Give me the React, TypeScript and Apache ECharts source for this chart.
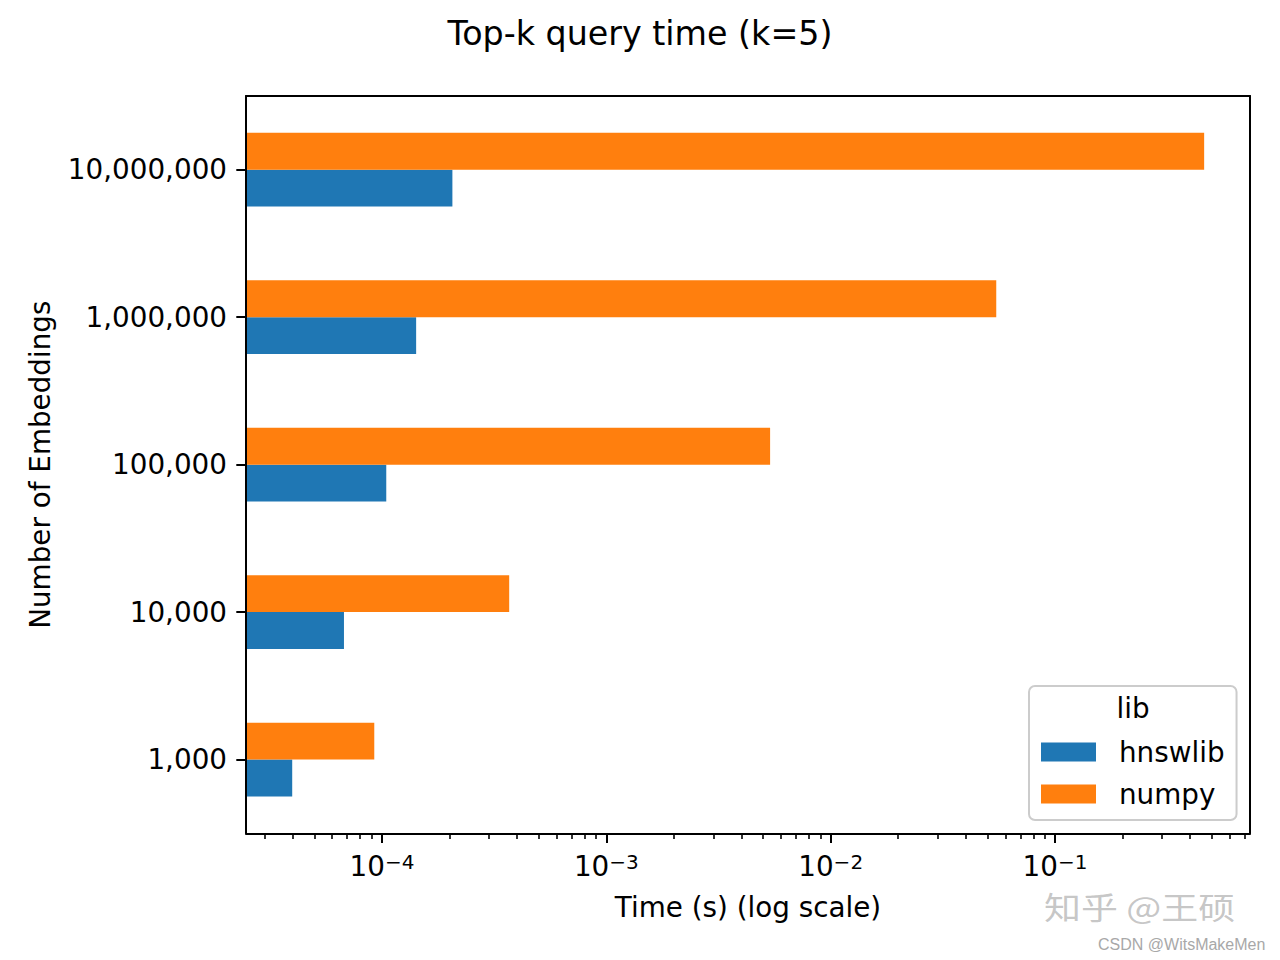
import React, { useEffect, useRef } from 'react';
import * as echarts from 'echarts';

const categories = ['1,000', '10,000', '100,000', '1,000,000', '10,000,000'];
const seriesNames = ['hnswlib', 'numpy'];
const hnswlibTimes = [3.98e-5, 6.77e-5, 1.045e-4, 1.42e-4, 2.06e-4];
const numpyTimes = [9.24e-5, 3.69e-4, 5.37e-3, 5.47e-2, 0.462];
const majorTicks = [1e-4, 1e-3, 1e-2, 1e-1];
const X_MIN = 2.477e-5;
const X_MAX = 0.7396;

const minorTicks: number[] = [];
for (let e = -5; e <= -1; e++) {
  for (let m = 2; m <= 9; m++) {
    const v = m * Math.pow(10, e);
    if (v >= X_MIN && v <= X_MAX) minorTicks.push(v);
  }
}

const FONT = "'DejaVu Sans', sans-serif";
const FS = 27.8;

const makeRender = (side: number) => (params: any, api: any) => {
  const v = api.value(0);
  const cat = api.value(1);
  const end = api.coord([v, cat]);
  const band = api.size([0, 1], [v, cat])[1];
  const h = band * 0.25;
  const cs = params.coordSys;
  const x0 = cs.x;
  const y = side < 0 ? end[1] - h : end[1];
  return {
    type: 'rect',
    shape: { x: x0, y, width: end[0] - x0, height: h },
    style: { fill: api.visual('color') },
  };
};

export default function App() {
  const ref = useRef<HTMLDivElement>(null);
  useEffect(() => {
    if (!ref.current) return;
    const chart = echarts.init(ref.current, undefined, { renderer: 'svg' });
    const axisLine = { show: true, lineStyle: { color: '#000', width: 2 } };
    const option: any = {
      animation: false,
      backgroundColor: '#fff',
      title: {
        text: 'Top-k query time (k=5)',
        left: 'center',
        top: 17,
        padding: 0,
        textStyle: { fontFamily: FONT, fontSize: 33.3, fontWeight: 'normal', color: '#000' },
      },
      grid: { left: 246, right: 30, top: 96, bottom: 126.7, containLabel: false },
      legend: {
        data: seriesNames,
        orient: 'vertical',
        left: 1029,
        top: 686,
        icon: 'rect',
        itemWidth: 55,
        itemHeight: 19,
        itemGap: 14,
        padding: [52, 12, 12, 12],
        borderColor: '#cccccc',
        borderWidth: 2,
        borderRadius: 6,
        backgroundColor: 'rgba(255,255,255,0.8)',
        itemStyle: { borderWidth: 0 },
        textStyle: { fontFamily: FONT, fontSize: FS, color: '#000', lineHeight: 28, padding: [0, 0, 0, 18] },
        z: 20,
      },
      xAxis: [
        {
          type: 'log',
          min: X_MIN,
          max: X_MAX,
          position: 'bottom',
          z: 10,
          axisLine,
          axisTick: { show: true, customValues: majorTicks, length: 9.7, lineStyle: { color: '#000', width: 2 } },
          axisLabel: {
            customValues: majorTicks,
            margin: 19,
            formatter: (v: number) => {
              const e = Math.round(Math.log10(v));
              return `{b|10}{s|\u2212${Math.abs(e)}}`;
            },
            rich: {
              b: { fontSize: FS, fontFamily: FONT, color: '#000' },
              s: { fontSize: 20, fontFamily: FONT, color: '#000', verticalAlign: 'top' },
            },
          },
          splitLine: { show: false },
          minorTick: { show: false },
          name: 'Time (s) (log scale)',
          nameLocation: 'middle',
          nameGap: 60,
          nameTextStyle: { fontFamily: FONT, fontSize: FS, color: '#000' },
        },
        {
          type: 'log',
          min: X_MIN,
          max: X_MAX,
          position: 'bottom',
          z: 10,
          axisLine: { show: false },
          axisTick: { show: true, customValues: minorTicks, length: 5.6, lineStyle: { color: '#000', width: 1.6 } },
          axisLabel: { show: false },
          splitLine: { show: false },
        },
        {
          type: 'log',
          min: X_MIN,
          max: X_MAX,
          position: 'top',
          z: 10,
          axisLine,
          axisTick: { show: false },
          axisLabel: { show: false },
          splitLine: { show: false },
        },
      ],
      yAxis: [
        {
          type: 'category',
          data: categories,
          position: 'left',
          z: 10,
          axisLine,
          axisTick: { show: true, alignWithLabel: true, length: 9.7, lineStyle: { color: '#000', width: 2 } },
          axisLabel: { margin: 19, fontSize: FS, fontFamily: FONT, color: '#000', padding: [3, 0, 0, 0] },
          splitLine: { show: false },
          name: 'Number of Embeddings',
          nameLocation: 'middle',
          nameRotate: 90,
          nameGap: 192,
          nameTextStyle: { fontFamily: FONT, fontSize: FS, color: '#000' },
        },
        {
          type: 'category',
          data: categories,
          position: 'right',
          z: 10,
          axisLine,
          axisTick: { show: false },
          axisLabel: { show: false },
          splitLine: { show: false },
        },
      ],
      series: [
        {
          name: 'hnswlib',
          type: 'custom',
          xAxisIndex: 0,
          yAxisIndex: 0,
          itemStyle: { color: '#1f77b4' },
          encode: { x: 0, y: 1 },
          data: hnswlibTimes.map((v, i) => [v, i]),
          renderItem: makeRender(1),
          z: 2,
        },
        {
          name: 'numpy',
          type: 'custom',
          xAxisIndex: 0,
          yAxisIndex: 0,
          itemStyle: { color: '#ff7f0e' },
          encode: { x: 0, y: 1 },
          data: numpyTimes.map((v, i) => [v, i]),
          renderItem: makeRender(-1),
          z: 2,
        },
      ],
      graphic: [
        {
          type: 'text',
          x: 1133,
          y: 708,
          z: 30,
          style: { text: 'lib', fontFamily: FONT, fontSize: FS, fill: '#000', align: 'center', verticalAlign: 'middle' },
        },
        {
          type: 'text',
          x: 1044,
          y: 906,
          scaleY: 0.82,
          z: 30,
          style: { text: '知乎 @王硕', fontFamily: "'Noto Sans CJK SC', sans-serif", fontSize: 37, fill: 'rgba(150,150,150,0.55)', align: 'left', verticalAlign: 'middle' },
        },
        {
          type: 'text',
          x: 1098,
          y: 944,
          z: 30,
          style: { text: 'CSDN @WitsMakeMen', fontFamily: "'Liberation Sans', Arial, sans-serif", fontSize: 16, fill: '#a8a8a8', align: 'left', verticalAlign: 'middle' },
        },
      ],
    };
    chart.setOption(option);
    return () => chart.dispose();
  }, []);
  return <div ref={ref} style={{ position: 'absolute', left: 0, top: 0, width: 1280, height: 960 }} />;
}
